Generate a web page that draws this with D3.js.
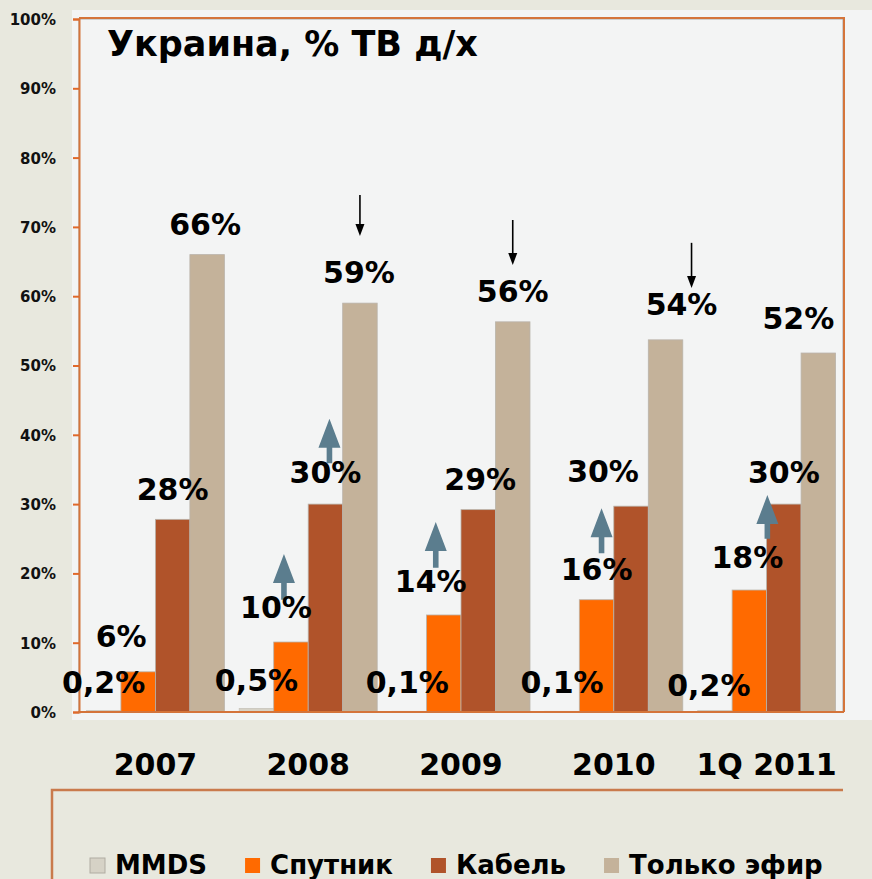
<!DOCTYPE html>
<html>
<head>
<meta charset="utf-8">
<script src="https://cdn.jsdelivr.net/npm/d3@7"></script>
<style>
  html, body { margin: 0; padding: 0; background: #e8e8de; }
  svg { display: block; font-family: "DejaVu Sans", Verdana, sans-serif; font-weight: bold; }
</style>
</head>
<body>
<svg id="chart" width="872" height="879"></svg>
<script>
// chart values (percent of TV households)
var categories = ["2007", "2008", "2009", "2010", "1Q 2011"];
var seriesNames = ["MMDS", "Спутник", "Кабель", "Только эфир"];
var mmds = [0.2, 0.5, 0.1, 0.1, 0.2];
var sputnik = [5.8, 10.1, 14.0, 16.2, 17.6];
var kabel = [27.8, 30.0, 29.2, 29.7, 30.0];
var efir = [66.0, 59.0, 56.3, 53.7, 51.8];
var yTicks = [0, 10, 20, 30, 40, 50, 60, 70, 80, 90, 100];

var colors = ["#d6d2c6", "#ff6a00", "#b0532a", "#c4b29a"];

// hand-placed label offsets [dx, dy above bar top], like the original slide
var labelNudge = [
  [[0, 18], [0, 18], [-2, 18], [0, 18], [-6, 15]],
  [[-17, 25], [-15, 24], [-13, 23], [0, 20], [-2, 22]],
  [[0, 19], [0, 21], [2, 20], [-28, 24], [0, 21]],
  [[-2, 20], [-1, 20], [0, 20], [16, 25], [-20, 24]]
];

// growth / decline marks (values in % on the y scale)
var upArrows = [
  { cat: "2008", s: 2, dx: 4, top: 42.3, bottom: 35.9 },
  { cat: "2008", s: 1, dx: -7, top: 22.8, bottom: 16.2 },
  { cat: "2009", s: 1, dx: -8, top: 27.4, bottom: 20.8 },
  { cat: "2010", s: 1, dx: 5, top: 29.4, bottom: 22.9 },
  { cat: "1Q 2011", s: 1, dx: 18, top: 31.3, bottom: 25.0 }
];
var downArrows = [
  { cat: "2008", s: 3, dx: 0, top: 74.6, bottom: 68.7 },
  { cat: "2009", s: 3, dx: 0, top: 71.0, bottom: 64.5 },
  { cat: "2010", s: 3, dx: 26, top: 67.7, bottom: 61.2 }
];

var values = [mmds, sputnik, kabel, efir];

(function () {
  var svg = d3.select("#chart");
  var plotLeft = 79, plotRight = 843, plotTop = 19, plotBottom = 712;

  var x0 = d3.scaleBand().domain(categories).range([plotLeft, plotRight]);
  var x1 = d3.scaleBand().domain(d3.range(seriesNames.length))
    .range([0, x0.bandwidth()]).paddingOuter(0.215);
  var y = d3.scaleLinear().domain([0, 100]).range([plotBottom, plotTop]);

  function barCenter(cat, s) {
    return x0(cat) + x1(s) + x1.bandwidth() / 2;
  }

  // light plot panel
  svg.append("rect")
    .attr("x", 72).attr("y", 10).attr("width", 800).attr("height", 710)
    .attr("fill", "#f3f4f4");

  // frame
  svg.append("rect")
    .attr("x", plotLeft).attr("y", plotTop)
    .attr("width", plotRight - plotLeft).attr("height", plotBottom - plotTop)
    .attr("fill", "none").attr("stroke", "#a9a9a9").attr("stroke-width", 1);
  svg.append("path")
    .attr("d", "M" + plotLeft + "," + (plotTop - 1) + "H" + (plotRight + 1) + "V" + plotBottom)
    .attr("fill", "none").attr("stroke", "#d4743a").attr("stroke-width", 2);

  // y axis
  var yAxis = d3.axisLeft(y).tickValues(yTicks)
    .tickFormat(function (d) { return d + "%"; })
    .tickSize(6).tickPadding(17);
  var gy = svg.append("g").attr("transform", "translate(" + plotLeft + ",0)").call(yAxis);
  gy.select(".domain").attr("stroke", "#d4743a").attr("stroke-width", 2);
  gy.selectAll(".tick line").attr("stroke", "#e0692a").attr("stroke-width", 2);
  gy.selectAll(".tick text")
    .attr("fill", "#111").attr("font-size", 15).attr("font-weight", "bold")
    .attr("font-family", "DejaVu Sans, Verdana, sans-serif").attr("dy", "0.36em");

  // bars
  var groups = svg.append("g").selectAll("g")
    .data(categories).join("g")
    .attr("transform", function (d) { return "translate(" + x0(d) + ",0)"; });

  groups.selectAll("rect")
    .data(function (cat, i) {
      return values.map(function (arr, s) { return { s: s, v: arr[i] }; });
    })
    .join("rect")
    .attr("x", function (d) { return x1(d.s); })
    .attr("y", function (d) { return y(d.v); })
    .attr("width", x1.bandwidth())
    .attr("height", function (d) { return y(0) - y(d.v); })
    .attr("fill", function (d) { return colors[d.s]; })
    .attr("stroke", function (d) { return d.s === 0 ? "#c8c4ba" : "#b9b3aa"; })
    .attr("stroke-width", 0.8);

  // bottom axis line
  svg.append("line")
    .attr("x1", plotLeft - 1).attr("x2", plotRight + 1)
    .attr("y1", plotBottom).attr("y2", plotBottom)
    .attr("stroke", "#d4743a").attr("stroke-width", 2);

  // arrows (under labels)
  var upPath = function (a) {
    var cx = barCenter(a.cat, a.s) + a.dx;
    var yt = y(a.top), yb = y(a.bottom), hh = 29, hw = 11, sw = 2.8;
    return "M" + cx + "," + yt +
      "L" + (cx + hw) + "," + (yt + hh) +
      "L" + (cx + sw) + "," + (yt + hh) +
      "L" + (cx + sw) + "," + yb +
      "L" + (cx - sw) + "," + yb +
      "L" + (cx - sw) + "," + (yt + hh) +
      "L" + (cx - hw) + "," + (yt + hh) + "Z";
  };
  svg.append("g").selectAll("path")
    .data(upArrows).join("path")
    .attr("d", upPath)
    .attr("fill", "#5b7d8e");

  var downG = svg.append("g").selectAll("g").data(downArrows).join("g");
  downG.append("line")
    .attr("x1", function (a) { return barCenter(a.cat, a.s) + a.dx; })
    .attr("x2", function (a) { return barCenter(a.cat, a.s) + a.dx; })
    .attr("y1", function (a) { return y(a.top); })
    .attr("y2", function (a) { return y(a.bottom) - 10; })
    .attr("stroke", "#000").attr("stroke-width", 1.6);
  downG.append("path")
    .attr("d", function (a) {
      var cx = barCenter(a.cat, a.s) + a.dx, yt = y(a.bottom);
      return "M" + cx + "," + yt + "L" + (cx - 4.5) + "," + (yt - 12) +
        "L" + (cx + 4.5) + "," + (yt - 12) + "Z";
    })
    .attr("fill", "#000");

  // value labels
  function fmt(s, v) {
    if (s === 0) return d3.format(".1f")(v).replace(".", ",") + "%";
    return Math.round(v) + "%";
  }
  var labelData = [];
  values.forEach(function (arr, s) {
    arr.forEach(function (v, i) {
      labelData.push({ s: s, i: i, v: v, cat: categories[i] });
    });
  });
  svg.append("g").selectAll("text")
    .data(labelData).join("text")
    .attr("x", function (d) { return barCenter(d.cat, d.s) + labelNudge[d.s][d.i][0]; })
    .attr("y", function (d) { return y(d.v) - labelNudge[d.s][d.i][1]; })
    .attr("text-anchor", "middle")
    .attr("font-size", 30)
    .attr("fill", "#000")
    .text(function (d) { return fmt(d.s, d.v); });

  // title
  svg.append("text")
    .attr("x", 107).attr("y", 56)
    .attr("font-size", 35).attr("fill", "#000")
    .text("Украина, % ТВ д/х");

  // category labels
  svg.append("g").selectAll("text")
    .data(categories).join("text")
    .attr("x", function (d) { return x0(d) + x0.bandwidth() / 2; })
    .attr("y", 775)
    .attr("text-anchor", "middle")
    .attr("font-size", 30).attr("fill", "#000")
    .text(function (d) { return d; });

  // legend box (only top and left edges visible)
  svg.append("path")
    .attr("d", "M52,879V790H843")
    .attr("fill", "none").attr("stroke", "#c97a4c").attr("stroke-width", 2.5);

  var lx = 90;
  var legend = svg.append("g");
  seriesNames.forEach(function (name, s) {
    legend.append("rect")
      .attr("x", lx).attr("y", 858).attr("width", 15).attr("height", 15)
      .attr("fill", colors[s])
      .attr("stroke", s === 0 ? "#b0aca2" : "none").attr("stroke-width", 1);
    var t = legend.append("text")
      .attr("x", lx + 25).attr("y", 874)
      .attr("font-size", 26).attr("fill", "#000")
      .text(name);
    lx += 25 + t.node().getComputedTextLength() + 38;
  });
})();
</script>
</body>
</html>
